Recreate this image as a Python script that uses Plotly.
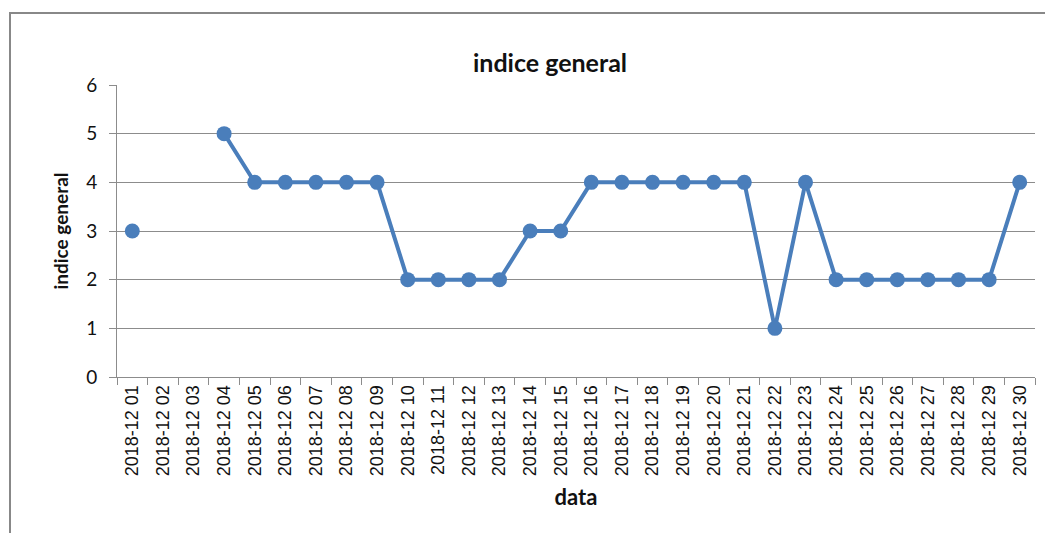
import plotly.graph_objects as go

categories = [f"2018-12 {d:02d}" for d in range(1, 31)]
values = [3, None, None, 5, 4, 4, 4, 4, 4, 2, 2, 2, 2, 3, 3, 4, 4, 4, 4, 4, 4, 1, 4, 2, 2, 2, 2, 2, 2, 4]
y_ticks = [0, 1, 2, 3, 4, 5, 6]

BLUE = "#4a7ebb"
GRID = "#8c8c8c"
FONT = "Lato"
TXT = "#111111"

# page body has an 8px offset; work in screen pixels and subtract it
OFF = 8
W, H = 1053 - OFF, 533 - OFF
L, T = 117 - OFF, 85 - OFF
R = 1053 - 1035
B = 533 - 377
pw, ph = W - L - R, H - T - B

def px(x):
    return (x - OFF - L) / pw

def py(y):
    return (H - B - (y - OFF)) / ph

fig = go.Figure()
fig.add_trace(go.Scatter(
    x=categories, y=values, mode="lines+markers",
    line=dict(color=BLUE, width=4),
    marker=dict(color=BLUE, size=15),
    connectgaps=False, showlegend=False,
))

fig.update_layout(
    width=W, height=H,
    margin=dict(l=L, r=R, t=T, b=B, autoexpand=False),
    paper_bgcolor="white", plot_bgcolor="white",
    title=dict(text="<b>indice general</b>", x=(550 - OFF) / W, xanchor="center",
               y=1 - (63 - OFF) / H, yanchor="middle",
               font=dict(family=FONT, size=25, color=TXT)),
    xaxis=dict(
        type="category", categoryorder="array", categoryarray=categories,
        tickangle=-90, ticks="outside", tickson="boundaries", ticklen=7,
        tickcolor=GRID, showline=True, linecolor=GRID, linewidth=1,
        showgrid=False, tickfont=dict(family="Liberation Sans", size=18, color=TXT),
        title=dict(text="<b>data</b>", font=dict(family=FONT, size=22, color=TXT),
                   standoff=14),
        range=[-0.5, 29.5], fixedrange=True,
    ),
    yaxis=dict(
        range=[0, 6], tickvals=y_ticks, ticks="outside", ticklen=7, tickcolor=GRID,
        showline=True, linecolor=GRID, linewidth=1,
        showgrid=True, gridcolor=GRID, gridwidth=1, zeroline=False,
        tickfont=dict(family=FONT, size=19, color=TXT),
        ticklabelstandoff=8,
        title=dict(text="<b>indice general</b>", font=dict(family=FONT, size=19, color=TXT),
                   standoff=12),
    ),
    shapes=[dict(type="rect", xref="paper", yref="paper",
                 x0=px(10), x1=px(1070), y0=py(13), y1=py(560),
                 line=dict(color="#888888", width=2), layer="below")],
)

fig.write_html("out.html")
